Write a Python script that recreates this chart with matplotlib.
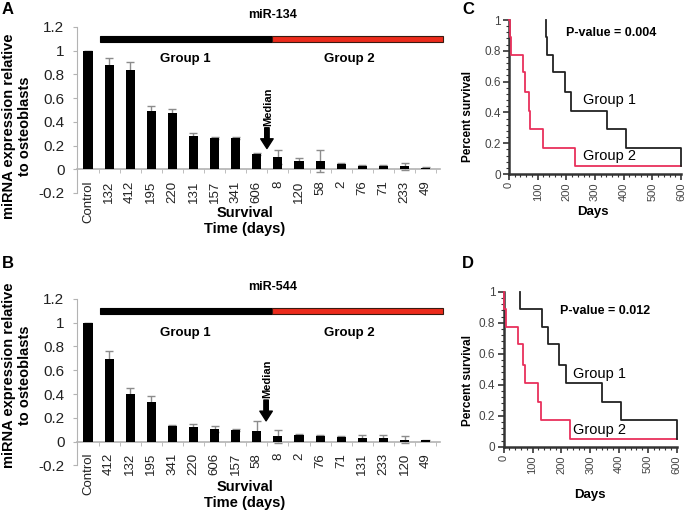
import matplotlib
matplotlib.use("Agg")
import matplotlib.pyplot as plt
from matplotlib.ticker import FixedLocator, MultipleLocator
from matplotlib.patches import Rectangle

plt.rcParams['font.family'] = ['Liberation Sans', 'DejaVu Sans']

# ---------------- data ----------------
a_labels = ["Control", "132", "412", "195", "220", "131", "157", "341", "606",
            "8", "120", "58", "2", "76", "71", "233", "49"]
a_values = [1.0, 0.879, 0.837, 0.494, 0.472, 0.281, 0.264, 0.264, 0.129,
            0.104, 0.07, 0.07, 0.045, 0.03, 0.03, 0.025, 0.012]
a_errors = [0.0, 0.06, 0.067, 0.037, 0.036, 0.025, 0.01, 0.01, 0.01,
            0.056, 0.028, 0.09, 0.01, 0.005, 0.005, 0.028, 0.003]

b_labels = ["Control", "412", "132", "195", "341", "220", "606", "157", "58",
            "8", "2", "76", "71", "131", "233", "120", "49"]
b_values = [1.0, 0.695, 0.398, 0.333, 0.135, 0.123, 0.105, 0.102, 0.09,
            0.045, 0.058, 0.05, 0.04, 0.03, 0.03, 0.017, 0.013]
b_errors = [0.0, 0.07, 0.05, 0.05, 0.003, 0.025, 0.023, 0.008, 0.085,
            0.055, 0.007, 0.005, 0.01, 0.025, 0.025, 0.028, 0.003]

ytick_vals = [-0.2, 0, 0.2, 0.4, 0.6, 0.8, 1.0, 1.2]
ytick_text = ["-0.2", "0", "0.2", "0.4", "0.6", "0.8", "1", "1.2"]

c_g1_days = [129, 129, 131, 153, 196, 217, 341, 408, 600]
c_g1_surv = [1.0, 0.89, 0.77, 0.66, 0.53, 0.41, 0.29, 0.17, 0.05]
c_g2_days = [0, 3, 8, 48, 56, 68, 73, 120, 230, 600]
c_g2_surv = [1.0, 0.89, 0.77, 0.66, 0.53, 0.41, 0.29, 0.17, 0.05, 0.05]

d_g1_days = [57, 57, 132, 155, 193, 216, 340, 407, 600]
d_g1_surv = [1.0, 0.89, 0.77, 0.66, 0.53, 0.41, 0.29, 0.17, 0.05]
d_g2_days = [0, 2, 8, 51, 68, 75, 120, 128, 230, 600]
d_g2_surv = [1.0, 0.89, 0.77, 0.66, 0.53, 0.41, 0.29, 0.17, 0.05, 0.05]

km_xticks = [0, 100, 200, 300, 400, 500, 600]
km_yticks = [0, 0.2, 0.4, 0.6, 0.8, 1.0]
km_ytext = ["0", "0.2", "0.4", "0.6", "0.8", "1"]

RED_BAR = "#ec2b1c"
RED_KM = "#e8305c"
GRAY = "#b3b3b3"

fig = plt.figure(figsize=(6.85, 5.13), dpi=100)


def bar_panel(rect, labels, values, errors, title, median_x, ylab_y):
    ax = fig.add_axes(rect)
    x = list(range(len(labels)))
    ax.errorbar(x, values, yerr=errors, fmt='none', ecolor='#8c8c8c',
                elinewidth=1.0, capsize=3, capthick=1.0, zorder=2)
    ax.bar(x, values, width=0.43, color='black', zorder=3)
    ax.set_xlim(-0.52, 16.68)
    ax.set_ylim(-0.2, 1.2)
    for s in ['top', 'right']:
        ax.spines[s].set_visible(False)
    ax.spines['left'].set_color(GRAY)
    ax.spines['bottom'].set_color(GRAY)
    ax.spines['bottom'].set_position(('data', 0))
    ax.spines['bottom'].set_linewidth(1.2)
    ax.set_yticks(ytick_vals)
    ax.set_yticklabels(ytick_text, fontsize=11, color='#222222')
    ax.tick_params(axis='y', length=3, color=GRAY, pad=6)
    ax.set_xticks(x)
    ax.set_xticklabels(labels, rotation=90, fontsize=9.5, color='#222222')
    ax.xaxis.set_minor_locator(FixedLocator([i + 0.5 for i in range(-1, len(labels))]))
    ax.tick_params(axis='x', which='major', length=0, pad=8)
    ax.tick_params(axis='x', which='minor', length=3, color=GRAY)
    # group bar
    ax.add_patch(Rectangle((0.57, 1.077), 8.72 - 0.57, 0.046, facecolor='black',
                           edgecolor='black', lw=0.8, clip_on=False, zorder=4))
    ax.add_patch(Rectangle((8.72, 1.077), 16.82 - 8.72, 0.046, facecolor=RED_BAR,
                           edgecolor='#3a1a10', lw=0.8, clip_on=False, zorder=4))
    ax.text(8.77, 1.3, title, ha='center', va='center', fontsize=9, fontweight='bold')
    ax.text(4.6, ylab_y, "Group 1", ha='center', va='center', fontsize=9.5, fontweight='bold')
    ax.text(12.4, ylab_y, "Group 2", ha='center', va='center', fontsize=9.5, fontweight='bold')
    ax.annotate('', xy=(median_x, 0.175), xytext=(median_x, 0.35),
                arrowprops=dict(facecolor='black', edgecolor='black', width=3.2,
                                headwidth=9, headlength=7, shrink=0))
    ax.text(median_x + 0.05, 0.365, "Median", rotation=90, ha='center', va='bottom',
            fontsize=8, fontweight='bold')
    return ax


axA = bar_panel([0.1124, 0.6238, 0.5299, 0.3236], a_labels, a_values, a_errors,
                "miR-134", 8.48, 0.93)
axB = bar_panel([0.1124, 0.0926, 0.5299, 0.3248], b_labels, b_values, b_errors,
                "miR-544", 8.44, 0.91)


def fx(px):
    return px / 685.0


def fy(py):
    return 1 - py / 513.0


fig.text(fx(17), fy(126), "miRNA expression relative\nto osteoblasts", rotation=90,
         ha='center', va='center', fontsize=10.5, fontweight='bold', multialignment='center',
         linespacing=1.1)
fig.text(fx(17), fy(375), "miRNA expression relative\nto osteoblasts", rotation=90,
         ha='center', va='center', fontsize=10.5, fontweight='bold', multialignment='center',
         linespacing=1.1)
fig.text(fx(245), fy(221), "Survival\nTime (days)", ha='center', va='center',
         fontsize=10.5, fontweight='bold', multialignment='center', linespacing=1.15)
fig.text(fx(245), fy(495), "Survival\nTime (days)", ha='center', va='center',
         fontsize=10.5, fontweight='bold', multialignment='center', linespacing=1.15)


def km_panel(rect, g1d, g1s, g2d, g2s, ptext, ppos, g1pos, g2pos):
    ax = fig.add_axes(rect)
    ax.plot(g2d, g2s, drawstyle='steps-post', color=RED_KM, lw=1.3, clip_on=False, zorder=3)
    ax.plot(g1d, g1s, drawstyle='steps-post', color='#222222', lw=1.3, clip_on=False, zorder=4)
    ax.set_xlim(0, 600)
    ax.set_ylim(0, 1)
    for s in ['top', 'right']:
        ax.spines[s].set_visible(False)
    for s in ['left', 'bottom']:
        ax.spines[s].set_color('#333333')
        ax.spines[s].set_linewidth(1.8)
    ax.set_xticks(km_xticks)
    ax.set_xticklabels([str(v) for v in km_xticks], rotation=90, fontsize=8, color='#444444')
    ax.set_yticks(km_yticks)
    ax.set_yticklabels(km_ytext, fontsize=8.5, color='#444444')
    ax.xaxis.set_minor_locator(MultipleLocator(20))
    ax.yaxis.set_minor_locator(MultipleLocator(0.04))
    ax.tick_params(which='major', length=4, width=1.2, color='#333333', pad=2)
    ax.tick_params(which='minor', length=2, width=0.8, color='#333333')
    ax.text(ppos[0], ppos[1], ptext, ha='left', va='center', fontsize=9, fontweight='bold')
    ax.text(g1pos[0], g1pos[1], "Group 1", ha='left', va='center', fontsize=10.5)
    ax.text(g2pos[0], g2pos[1], "Group 2", ha='left', va='center', fontsize=10.5)
    return ax


axC = km_panel([0.7431, 0.6608, 0.2511, 0.3002], c_g1_days, c_g1_surv, c_g2_days, c_g2_surv,
               "P-value = 0.004", (199, 0.915), (258, 0.48), (258, 0.12))
axD = km_panel([0.7353, 0.1292, 0.2526, 0.3021], d_g1_days, d_g1_surv, d_g2_days, d_g2_surv,
               "P-value = 0.012", (195, 0.877), (241, 0.469), (241, 0.108))

fig.text(fx(593), fy(212), "Days", ha='center', va='center', fontsize=9.5, fontweight='bold')
fig.text(fx(590), fy(495), "Days", ha='center', va='center', fontsize=9.5, fontweight='bold')
fig.text(fx(468), fy(117), "Percent survival", rotation=90, ha='center', va='center',
         fontsize=8.5, fontweight='bold')
fig.text(fx(468), fy(380), "Percent survival", rotation=90, ha='center', va='center',
         fontsize=8.5, fontweight='bold')

for letter, (px, py) in zip("ABCD", [(8, 10), (8, 264), (468, 10), (468, 264)]):
    fig.text(fx(px), fy(py), letter, ha='center', va='center', fontsize=12, fontweight='bold')

fig.savefig("out.png", dpi=100)
